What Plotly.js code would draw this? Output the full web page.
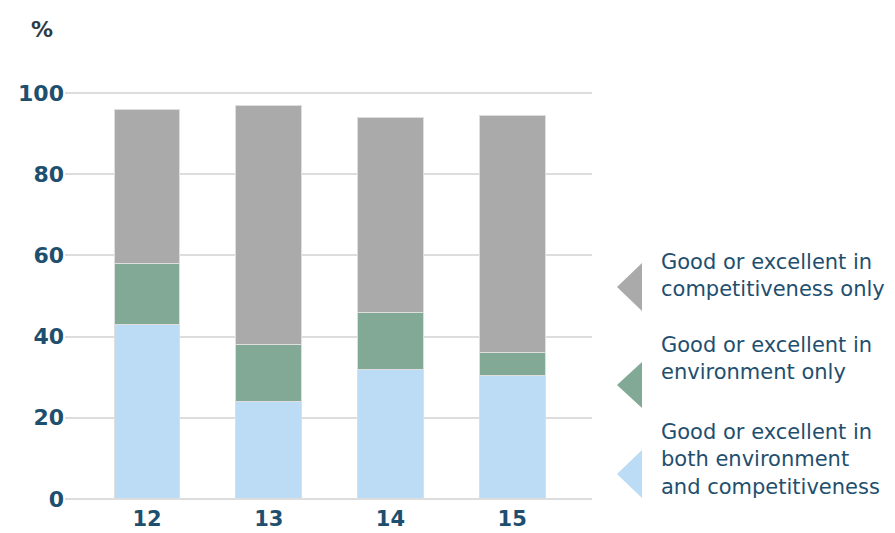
<!DOCTYPE html>
<html>
<head>
<meta charset="utf-8">
<script src="https://cdn.plot.ly/plotly-3.0.1.min.js"></script>
<style>
html,body{margin:0;padding:0;background:#fff;}
#chart{width:895px;height:533px;}
</style>
</head>
<body>
<div id="chart"></div>
<script>
// Data
var categories = ["12", "13", "14", "15"];
var bothValues = [43, 24, 32, 30.5];
var envOnlyValues = [15, 14, 14, 5.5];
var compOnlyValues = [38, 59, 48, 58.5];
var seriesNames = [
  "Good or excellent in<br>both environment<br>and competitiveness",
  "Good or excellent in<br>environment only",
  "Good or excellent in<br>competitiveness only"
];
var yTicks = [0, 20, 40, 60, 80, 100];

var colors = ["#bbdcf4", "#82a996", "#aaaaaa"];
var textColor = "#1f4f6e";

var M = {l: 65, r: 303, t: 91, b: 32};
var W = 895, H = 533;
var pw = W - M.l - M.r, ph = H - M.t - M.b;
function px(x) { return (x - M.l) / pw; }
function py(y) { return (H - M.b - y) / ph; }

function barTrace(vals, i) {
  return {
    type: "bar",
    x: categories,
    y: vals,
    name: seriesNames[i],
    width: 0.54,
    marker: {color: colors[i], line: {color: "#dedede", width: 1}},
    hoverinfo: "none",
    showlegend: false
  };
}

var data = [barTrace(bothValues, 0), barTrace(envOnlyValues, 1), barTrace(compOnlyValues, 2)];

// legend triangles (pointing left) and labels
var legendRows = [
  {idx: 2, tipY: 287, halfH: 24, textY: 275},
  {idx: 1, tipY: 385, halfH: 23, textY: 358},
  {idx: 0, tipY: 474, halfH: 24, textY: 459}
];
var shapes = [];
var annotations = [];
legendRows.forEach(function (r) {
  var x0 = px(617), x1 = px(642);
  var yt = py(r.tipY), ya = py(r.tipY - r.halfH), yb = py(r.tipY + r.halfH);
  shapes.push({
    type: "path", xref: "paper", yref: "paper",
    path: "M " + x0 + " " + yt + " L " + x1 + " " + ya + " L " + x1 + " " + yb + " Z",
    fillcolor: colors[r.idx], line: {width: 0}
  });
  annotations.push({
    xref: "paper", yref: "paper", x: px(659), y: py(r.textY),
    xanchor: "left", yanchor: "middle", align: "left", showarrow: false,
    text: seriesNames[r.idx],
    font: {family: "DejaVu Sans, sans-serif", size: 21, color: textColor}
  });
});
annotations.push({
  xref: "paper", yref: "paper", x: px(42), y: py(29),
  xanchor: "center", yanchor: "middle", showarrow: false, text: "%",
  font: {family: "DejaVu Sans, sans-serif", size: 22, color: "#2d3b45", weight: 700}
});

var layout = {
  width: W, height: H,
  margin: M,
  paper_bgcolor: "#fff", plot_bgcolor: "#fff",
  barmode: "stack",
  showlegend: false,
  xaxis: {
    type: "category",
    range: [-0.674, 3.656],
    showgrid: false, zeroline: false, showline: false,
    ticks: "",
    ticklabelstandoff: 3,
    tickfont: {family: "DejaVu Sans, sans-serif", size: 21, color: textColor, weight: 700},
    fixedrange: true
  },
  yaxis: {
    range: [-0.5, 100.5],
    tickvals: yTicks,
    ticktext: yTicks.map(String),
    showgrid: true, gridcolor: "#dddddd", gridwidth: 2,
    zeroline: false, showline: false,
    ticks: "",
    tickfont: {family: "DejaVu Sans, sans-serif", size: 22, color: textColor, weight: 700},
    fixedrange: true
  },
  shapes: shapes,
  annotations: annotations
};

Plotly.newPlot("chart", data, layout, {displayModeBar: false, staticPlot: true});
</script>
</body>
</html>
